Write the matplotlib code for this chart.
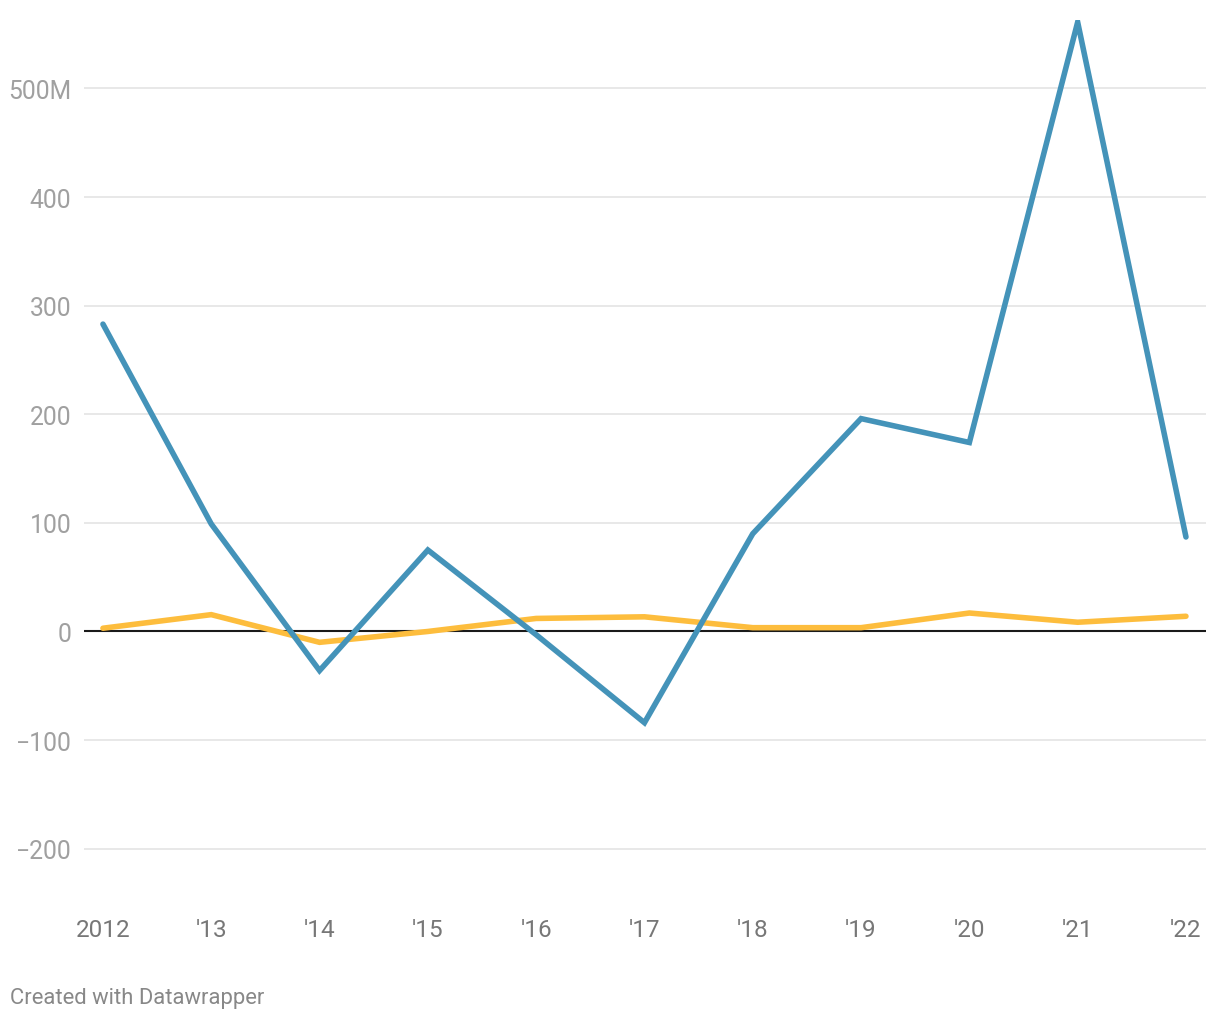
import matplotlib.pyplot as plt
from matplotlib.ticker import FixedLocator

plt.rcParams['font.family'] = ['Roboto', 'DejaVu Sans']

# data
years = [2012, 2013, 2014, 2015, 2016, 2017, 2018, 2019, 2020, 2021, 2022]
year_labels = ['2012', "'13", "'14", "'15", "'16", "'17", "'18", "'19", "'20", "'21", "'22"]
blue_vals = [283, 99, -36, 75, -3, -84, 90, 196, 174, 561, 87]
yellow_vals = [3, 15.5, -10, 0, 12, 13.5, 3.5, 3.5, 17, 8.5, 14]
y_ticks = [-200, -100, 0, 100, 200, 300, 400, 500]
y_tick_labels = ['\u2212200', '\u2212100', '0', '100', '200', '300', '400', '500M']

fig = plt.figure(figsize=(12.2, 10.2), dpi=100)
ax = fig.add_axes([84 / 1220, 1 - 904 / 1020, 1122 / 1220, 883 / 1020])

for y in y_ticks:
    if y == 0:
        continue
    ax.axhline(y, color='#e1e1e1', lw=1.1, zorder=0)
ax.axhline(0, color='#1a1a1a', lw=1.5, zorder=1)

ax.plot(years, yellow_vals, color='#fdbd3d', lw=4, solid_capstyle='round', solid_joinstyle='miter', zorder=2)
ax.plot(years, blue_vals, color='#4493b9', lw=4, solid_capstyle='round', solid_joinstyle='miter', zorder=3)

ax.set_xlim(2012 - 0.175, 2022 + 0.185)
ax.set_ylim(-250, 563)

ax.yaxis.set_major_locator(FixedLocator(y_ticks))
ax.set_yticklabels(y_tick_labels)
ax.set_xticks(years)
ax.set_xticklabels(year_labels)

ax.tick_params(axis='y', length=0, pad=9, labelsize=17.8, labelcolor='#a0a0a0')
ax.tick_params(axis='x', length=0, pad=11, labelsize=17.5, labelcolor='#777777')
for s in ax.spines.values():
    s.set_visible(False)

fig.text(10 / 1220, 1 - 999 / 1020, 'Created with Datawrapper', fontsize=15.8,
         color='#888888', va='center', ha='left')

plt.savefig('out.png', dpi=100)
